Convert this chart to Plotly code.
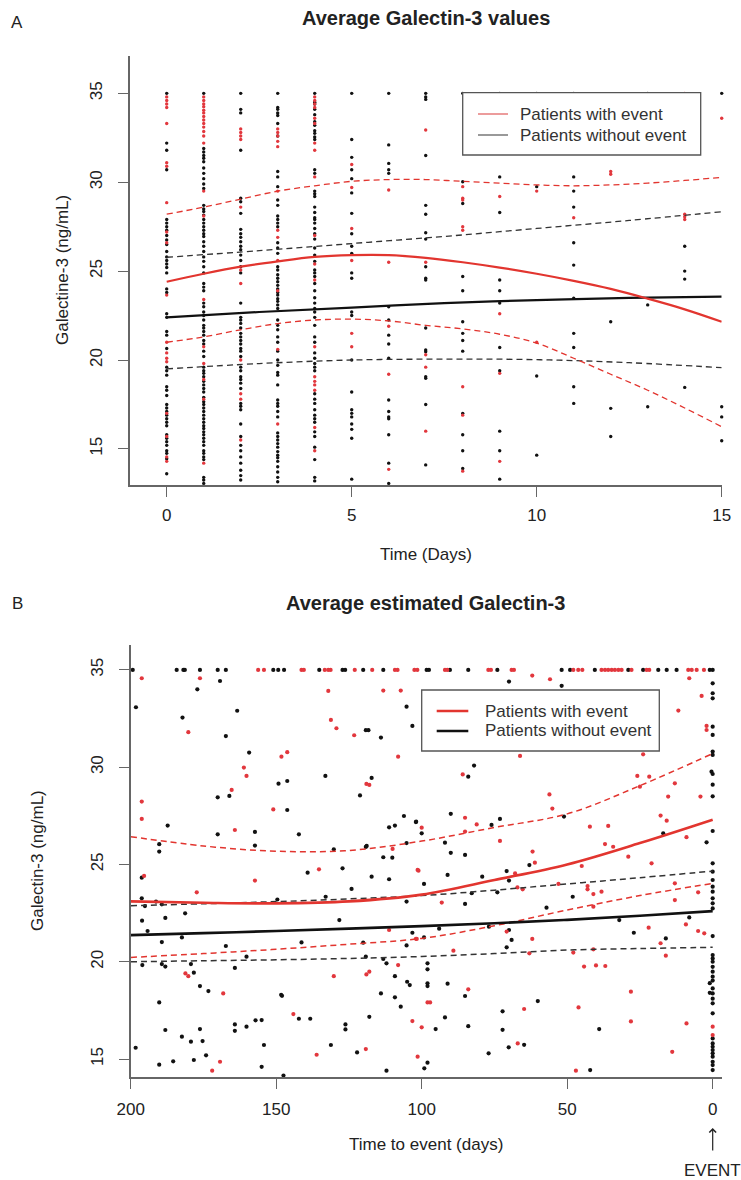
import plotly.graph_objects as go

W, H = 741, 1180
FONT = "Liberation Sans, Arial, sans-serif"
RED = "#e2352f"
RED_PT = "#e2373d"
BLACK = "#111111"
AXIS = "#666666"

# ---------------- Panel A: measured values by day ----------------
A_WITH_EVENT = {
    0: [34.8, 34.6, 34.4, 34.2, 33.3, 31.1, 30.9, 28.85, 27.2, 26.6, 23.65, 21.0, 20.4, 20.1, 19.9, 17.0, 15.7, 14.55, 14.3],
    1: [34.8, 34.6, 34.4, 34.25, 34.05, 33.9, 33.7, 33.5, 33.3, 33.1, 32.85, 32.6, 32.2, 29.5, 28.1, 23.4, 20.75, 19.8, 18.9, 17.8, 14.2],
    2: [33.0, 32.8, 32.6, 32.4, 28.6, 25.06, 24.3, 20.0, 18.1, 17.8, 15.5],
    3: [33.0, 32.8, 32.6, 32.3, 32.0, 29.5, 27.3, 26.9, 25.6, 23.9, 20.6, 16.4],
    4: [34.8, 34.6, 34.4, 34.2, 33.6, 33.3, 32.2, 31.8, 30.3, 27.0, 25.4, 24.5, 20.75, 19.06, 18.8, 18.6, 18.3, 16.2, 14.9],
    5: [31.0, 29.7, 27.4, 25.6, 21.5, 20.75],
    6: [29.56, 25.5, 21.9, 19.2, 13.85],
    7: [32.94, 25.5, 20.3, 19.6, 16.0],
    8: [29.75, 29.1, 29.0, 27.5, 27.3, 18.5, 16.9, 13.75],
    9: [29.2, 22.6, 19.25, 14.3],
    10: [29.5, 21.0],
    11: [28.0],
    12: [30.6, 30.45],
    14: [35.0, 28.2, 28.06, 27.9],
    15: [33.6],
}
A_WITHOUT_EVENT = {
    0: [35.0, 32.2, 31.8, 30.7, 27.9, 27.7, 27.5, 27.3, 27.0, 26.75, 26.5, 26.1, 25.8, 25.6, 25.4, 25.2, 24.9,
        24.0, 23.8, 22.6, 22.4, 21.6, 21.4, 20.65, 19.6, 19.4, 19.15, 18.5, 18.3, 18.0, 17.5, 17.3, 17.1, 16.9,
        16.7, 16.5, 16.3, 15.8, 15.6, 15.4, 15.2, 14.9, 14.75, 14.45, 13.6],
    1: [35.0, 31.9, 31.7, 31.5, 31.35, 31.15, 30.8, 30.5, 30.2, 29.9, 29.65, 28.7, 28.5, 28.35, 28.15, 27.9, 27.7,
        27.5, 27.3, 27.1, 26.95, 26.65, 26.4, 26.1, 25.8, 25.55, 25.25, 24.9, 24.3, 24.1, 23.9, 23.2, 23.0, 22.7,
        22.5, 22.25, 21.95, 21.8, 21.6, 21.4, 21.1, 20.9, 20.5, 20.2, 19.6, 19.4, 19.25, 19.06, 18.8, 18.6, 18.4,
        18.2, 17.9, 17.65, 17.5, 17.3, 17.1, 16.9, 16.7, 16.5, 16.3, 16.15, 15.96, 15.8, 15.6, 15.4, 15.2, 14.9,
        14.75, 14.55, 14.4, 13.4, 13.25, 13.06],
    2: [35.0, 34.1, 33.9, 31.8, 29.1, 28.9, 28.25, 27.35, 27.1, 26.9, 26.65, 26.4, 26.2, 25.9, 25.6, 25.25, 24.9,
        23.2, 22.4, 22.25, 22.06, 21.8, 21.5, 21.3, 21.1, 20.9, 20.65, 20.5, 20.2, 19.6, 19.4, 19.06, 18.9, 18.7,
        18.4, 17.56, 17.4, 17.2, 16.4, 15.7, 15.2, 14.9, 14.55, 14.2, 13.8, 13.5, 13.25],
    3: [35.0, 34.2, 34.1, 33.9, 33.75, 33.3, 32.6, 30.6, 30.3, 29.75, 29.0, 28.7, 28.1, 27.9, 27.7, 27.5, 26.6,
        26.3, 26.0, 25.25, 25.06, 24.8, 24.6, 24.4, 24.2, 24.0, 23.8, 23.65, 23.45, 23.3, 23.1, 22.9, 22.25, 21.95,
        21.7, 21.3, 21.0, 20.5, 20.0, 19.7, 19.3, 19.15, 18.6, 17.75, 17.56, 17.4, 17.1, 16.8, 15.9, 15.7, 15.5,
        15.3, 15.1, 14.85, 14.65, 14.5, 14.3, 14.0, 13.7, 13.4, 13.15],
    4: [35.0, 34.5, 34.4, 34.1, 33.8, 33.4, 33.2, 32.9, 32.75, 32.55, 32.4, 30.7, 30.5, 29.5, 29.35, 29.2, 28.6,
        28.3, 28.0, 27.9, 27.7, 27.4, 27.1, 26.8, 26.3, 25.9, 25.55, 25.06, 24.9, 24.7, 24.3, 23.9, 23.5, 23.2,
        22.9, 22.7, 22.4, 21.95, 21.3, 21.0, 20.4, 20.1, 19.8, 19.6, 19.4, 18.1, 17.8, 17.56, 17.2, 16.9, 16.7,
        16.5, 15.96, 15.7, 15.1, 14.4, 13.4, 13.2],
    5: [35.0, 32.4, 31.4, 30.7, 30.2, 29.4, 28.25, 27.1, 26.4, 26.0, 24.9, 24.6, 22.7, 22.5, 20.0, 18.2, 17.2,
        17.0, 16.8, 16.4, 16.1, 15.6, 13.3],
    6: [35.0, 32.1, 31.06, 30.7, 30.5, 23.0, 22.25, 21.4, 20.9, 20.1, 17.75, 17.1, 16.8, 16.7, 15.8, 14.2, 13.06],
    7: [35.0, 34.8, 34.66, 31.5, 28.7, 28.2, 27.16, 26.8, 25.25, 24.6, 24.5, 21.8, 20.56, 20.47, 19.06, 18.97, 17.5, 14.1],
    8: [35.0, 30.03, 28.8, 24.7, 23.9, 22.15, 21.5, 21.1, 20.5, 17.0, 15.8, 14.9, 13.9],
    9: [35.0, 30.3, 28.3, 24.5, 23.9, 23.2, 20.7, 19.4, 16.0, 14.9, 13.3],
    10: [35.0, 29.75, 19.1, 14.65],
    11: [35.0, 30.3, 29.5, 28.6, 26.6, 25.34, 23.47, 21.5, 20.7, 18.5, 17.56],
    12: [22.15, 17.28, 15.7],
    13: [35.0, 23.1, 17.37],
    14: [26.4, 25.0, 24.55, 18.46],
    15: [35.0, 17.37, 16.8, 15.46],
}

# Smoothed averages with confidence bands (panel A)
A_EVENT_DAYS = list(range(16))
A_EVENT_MEAN = [24.4, 24.85, 25.25, 25.55, 25.8, 25.9, 25.9, 25.75, 25.5, 25.2, 24.85, 24.45, 24.0, 23.45, 22.85, 22.15]
A_EVENT_UPPER = [28.2, 28.6, 29.05, 29.5, 29.8, 30.05, 30.15, 30.15, 30.05, 29.95, 29.85, 29.8, 29.85, 29.95, 30.1, 30.27]
A_EVENT_LOWER = [21.0, 21.3, 21.7, 22.05, 22.25, 22.3, 22.2, 21.95, 21.75, 21.45, 20.95, 20.1, 19.2, 18.3, 17.3, 16.25]
A_NOEVENT_DAYS = [0, 2.5, 5, 7.5, 10, 12.5, 15]
A_NOEVENT_MEAN = [22.4, 22.7, 22.95, 23.2, 23.37, 23.5, 23.56]
A_NOEVENT_UPPER = [25.78, 26.15, 26.55, 26.95, 27.4, 27.85, 28.34]
A_NOEVENT_LOWER = [19.5, 19.8, 20.0, 20.05, 20.02, 19.85, 19.57]

# ---------------- Panel B: estimated values by time to event ----------------
B_EVENT_DAYS = [156.2, 154.2, 141.3, 140.5, 133.3, 132.1, 131.3, 123.0, 117.0, 109.2, 108.3, 102.5, 101.5,
                92.0, 91.2, 77.1, 76.2, 69.1, 68.3, 47.9, 46.2, 44.8, 38.2, 37.0, 35.9, 34.7, 33.6, 32.4, 31.3,
                27.9, 22.7, 21.8, 8.4, 7.2, 5.5, 3.0,
                196.2, 176.2, 180.2, 161.1, 160.2, 165.3, 196.2, 196.2, 164.2, 148.2, 146.2, 151.0, 132.1, 131.2,
                129.3, 123.2, 119.0, 118.0, 113.2, 107.2, 108.1, 110.0, 135.3,
                195.4, 177.3, 157.3, 101.4, 181.2, 180.2, 168.2, 169.3, 111.2, 102.0, 108.1, 130.2, 119.0, 118.0,
                144.1, 103.2, 119.2, 136.1, 101.4, 172.0,
                62.0, 55.9, 8.05, 3.8, 11.8, 66.2, 23.9, 2.1, 2.1, 85.9, 25.9, 21.8, 25.0, 13.0, 56.1, 15.3, 4.2,
                55.1, 85.1, 100.0, 81.1, 85.1, 73.1, 61.9, 42.2, 35.9, 37.0, 34.2, 17.9, 15.8, 9.0, 29.0, 21.0,
                45.0, 61.1,
                101.1, 67.9, 67.1, 65.3, 93.1, 53.0, 43.0, 43.0, 41.0, 38.2, 41.0, 13.0, 13.0, 5.0, 9.2, 5.0, 2.9,
                22.0, 17.9, 16.1, 101.7, 70.8, 62.0, 63.0, 89.1, 47.9, 41.0, 98.0, 97.1, 84.0, 64.8, 100.0, 44.2,
                40.1, 36.9, 46.1, 28.1, 28.1, 9.0, 13.9, 67.0, 47.0, 0.0, 0.0]
B_EVENT_VALUES = [35.0] * 36 + [
                34.57, 34.57, 31.8, 29.98, 29.55, 28.83, 28.23, 27.34, 26.77, 30.54, 30.77, 27.83, 33.92, 32.43,
                32.0, 31.64, 29.14, 29.09, 33.94, 33.94, 30.54, 25.8, 24.75,
                24.41, 23.57, 24.17, 24.72, 19.4, 19.26, 18.37, 14.86, 21.63, 21.18, 19.83, 19.26, 19.35, 19.49,
                17.31, 16.95, 15.51, 15.22, 15.12, 14.4,
                34.71, 34.52, 34.57, 33.66, 32.91, 30.58, 30.66, 32.12, 31.91, 29.63, 29.55, 29.51, 29.0, 29.17,
                28.6, 28.49, 28.49, 27.87, 27.4, 26.89, 27.06, 26.69, 26.21, 25.66, 26.94, 26.98, 26.05, 25.91,
                27.51, 27.25, 26.4, 25.4, 25.06, 24.92, 25.09,
                24.68, 24.54, 23.82, 23.72, 23.04, 24.0, 23.89, 23.72, 23.48, 23.6, 22.83, 24.03, 23.17, 23.57,
                21.92, 21.58, 21.46, 21.75, 20.95, 20.31, 21.17, 21.55, 21.17, 20.43, 20.57, 20.47, 20.64, 17.91,
                17.91, 18.58, 17.57, 16.63, 19.75, 19.81, 19.78, 17.65, 18.46, 16.93, 16.83, 15.37, 15.8, 14.4,
                16.66, 16.23]

B_NOEVENT_DAYS = [199.3, 184.2, 181.9, 181.4, 176.2, 170.1, 167.3, 151.0, 149.3, 147.3, 135.2, 127.2, 126.3,
                  120.1, 113.2, 98.3, 97.5, 90.3, 84.0, 74.0, 51.9, 49.0, 40.5, 29.0, 23.9, 18.7, 15.8, 12.4, 1.0, 0.0,
                  198.2, 177.1, 169.3, 182.2, 167.3, 163.4, 159.3, 170.1, 166.1, 187.3, 190.2, 190.2, 170.1, 157.3,
                  157.3, 149.2, 146.2, 146.2, 142.2, 119.2, 118.3, 114.0, 133.1, 117.2, 121.2, 105.2, 103.2, 106.1,
                  111.2, 109.2, 102.0, 105.2, 113.2, 110.1, 119.2, 118.9, 130.2, 127.2,
                  196.2, 139.2, 117.2, 111.2, 196.2, 191.3, 189.3, 195.1, 196.1, 194.2, 188.1, 181.3, 182.4, 189.3,
                  167.3, 160.2, 196.0, 189.3, 188.1, 179.3, 178.3, 164.2, 176.2, 173.3, 190.2, 148.3, 148.0, 188.1,
                  182.4, 179.3, 176.2, 175.3, 174.1, 164.2, 164.2, 160.2, 157.1, 155.0, 154.2, 155.0, 198.3, 190.2,
                  185.4, 178.3, 133.0, 124.1, 128.3, 141.3, 105.2, 103.2, 105.2, 120.1, 119.2, 113.2, 112.1, 109.2,
                  105.0, 104.1, 114.0, 109.2, 107.2, 142.2, 138.3, 126.2, 126.2, 118.0, 131.2, 122.2, 112.1, 149.6,
                  147.5,
                  70.0, 51.9, 0.0, 0.0, 0.0, 0.0, 0.0, 0.0, 0.0, 0.4, 0.0, 0.0, 0.0, 84.0, 82.0, 90.0, 51.1, 101.9,
                  100.0, 76.0, 73.1, 92.0, 90.0, 85.1, 17.0, 0.0, 2.1, 63.0, 0.0,
                  91.1, 79.2, 70.8, 70.0, 99.2, 0.0, 0.0, 0.0, 0.0, 0.0, 0.0, 0.0, 74.0, 82.8, 85.1, 48.1, 57.1,
                  8.05, 32.1, 27.1, 16.1, 0.0, 99.2, 94.0, 76.9, 70.0, 69.1, 70.8, 98.0, 98.0, 98.0, 98.0, 91.1,
                  85.1, 60.1, 72.2, 92.0, 84.0, 72.2, 95.2, 39.0, 77.0, 70.1, 64.8, 98.0, 99.1, 42.1,
                  0.0, 0.0, 0.0, 0.0, 0.0, 0.0, 0.0, 0.0, 0.0, 0.0, 0.0, 0.0, 0.0, 0.0, 0.0, 0.0, 0.0, 0.0, 0.0,
                  0.0, 0.0, 1.0, 1.0]
B_NOEVENT_VALUES = [35.0] * 30 + [
                  33.08, 34.0, 34.43, 32.55, 31.6, 32.9, 30.75, 28.45, 28.52, 27.0, 26.04, 25.66, 26.55, 26.67,
                  25.97, 29.15, 29.29, 27.8, 26.55, 31.9, 31.9, 31.52, 29.55, 29.45, 28.55, 33.11, 32.12, 27.49,
                  26.91, 27.0, 27.18, 26.1, 25.37, 25.35, 25.9, 25.95, 25.78, 24.8,
                  24.32, 24.58, 24.37, 24.24, 23.26, 23.09, 22.95, 22.86, 22.11, 21.58, 22.25, 22.49, 21.25, 21.01,
                  20.81, 20.26, 19.83, 19.88, 19.75, 19.88, 19.44, 19.68, 18.75, 18.49, 17.91, 18.3, 18.25, 16.49,
                  16.15, 15.89, 16.54, 15.92, 15.19, 16.78, 16.45, 16.66, 16.99, 17.0, 15.72, 14.6, 15.58, 14.71,
                  14.88, 14.95, 23.34, 23.74, 22.14, 20.99, 23.09, 21.49, 20.84, 20.98, 20.26, 20.14, 19.92, 19.26,
                  18.97, 18.8, 18.37, 18.17, 17.69, 17.07, 17.07, 16.78, 16.52, 17.17, 15.72, 15.34, 14.4, 23.2,
                  14.15,
                  34.4, 34.18, 34.31, 33.8, 33.54, 32.08, 31.66, 30.8, 30.63, 29.77, 29.65, 29.1, 28.5, 29.51, 30.08,
                  27.6, 27.46, 27.2, 26.6, 27.03, 27.34, 26.12, 25.6, 25.49, 26.6, 26.72, 26.14, 24.97, 25.06,
                  24.46, 24.37, 24.66, 24.17, 24.0, 24.63, 24.2, 23.86, 23.6, 23.26, 23.0, 22.74, 23.57, 23.52,
                  22.97, 23.34, 22.78, 22.28, 22.14, 21.49, 21.2, 21.32, 21.25, 21.7, 21.8, 21.63, 21.12, 20.74,
                  19.92, 19.61, 18.89, 18.75, 18.87, 18.24, 17.98, 17.45, 17.14, 16.69, 16.5, 16.54, 16.54, 15.29,
                  15.6, 15.73, 14.81, 14.52, 14.43,
                  20.34, 20.17, 20.0, 19.74, 19.49, 19.23, 19.03, 18.63, 18.37, 18.1, 17.86, 17.35, 16.06, 15.8,
                  15.63, 15.46, 15.29, 15.12, 14.86, 14.69, 14.43, 18.9, 18.4]

# Smoothed averages with confidence bands (panel B)
B_CURVE_DAYS = [200, 175, 150, 125, 100, 75, 50, 25, 0]
B_EVENT_MEAN = [23.1, 23.03, 23.0, 23.1, 23.45, 24.2, 25.0, 26.1, 27.3]
B_EVENT_UPPER = [26.43, 25.95, 25.68, 25.72, 26.2, 26.9, 27.6, 29.05, 30.7]
B_EVENT_LOWER = [20.22, 20.42, 20.64, 20.9, 21.2, 21.85, 22.66, 23.4, 24.03]
B_NOEVENT_MEAN = [21.37, 21.47, 21.58, 21.7, 21.83, 21.98, 22.15, 22.36, 22.6]
B_NOEVENT_UPPER = [22.88, 22.98, 23.09, 23.23, 23.4, 23.68, 24.0, 24.32, 24.66]
B_NOEVENT_LOWER = [20.0, 20.05, 20.1, 20.17, 20.27, 20.42, 20.6, 20.68, 20.74]

A_XTICKS = [0, 5, 10, 15]
A_YTICKS = [15, 20, 25, 30, 35]
B_XTICKS = [200, 150, 100, 50, 0]
B_YTICKS = [15, 20, 25, 30, 35]
LEGEND_LABELS = ["Patients with event", "Patients without event"]


def flatten(groups):
    xs, ys = [], []
    for day, vals in groups.items():
        xs.extend([day] * len(vals))
        ys.extend(vals)
    return xs, ys


def px_x(px):
    return px / W


def px_y(py):
    return 1 - py / H


fig = go.Figure()

# panel A points
ax_, ay_ = flatten(A_WITHOUT_EVENT)
fig.add_trace(go.Scatter(x=ax_, y=ay_, mode="markers", xaxis="x", yaxis="y",
                         marker=dict(size=3.4, color=BLACK), cliponaxis=False))
ax_, ay_ = flatten(A_WITH_EVENT)
fig.add_trace(go.Scatter(x=ax_, y=ay_, mode="markers", xaxis="x", yaxis="y",
                         marker=dict(size=3.4, color=RED_PT), cliponaxis=False))


def curve(x, y, color, width, dash, xa, ya):
    fig.add_trace(go.Scatter(x=x, y=y, mode="lines", xaxis=xa, yaxis=ya,
                             line=dict(color=color, width=width, dash=dash, shape="spline", smoothing=1.0)))


DASH = "6px,4px"
curve(A_NOEVENT_DAYS, A_NOEVENT_UPPER, "#333333", 1.3, DASH, "x", "y")
curve(A_NOEVENT_DAYS, A_NOEVENT_LOWER, "#333333", 1.3, DASH, "x", "y")
curve(A_EVENT_DAYS, A_EVENT_UPPER, RED, 1.3, DASH, "x", "y")
curve(A_EVENT_DAYS, A_EVENT_LOWER, RED, 1.3, DASH, "x", "y")
curve(A_NOEVENT_DAYS, A_NOEVENT_MEAN, BLACK, 2.2, "solid", "x", "y")
curve(A_EVENT_DAYS, A_EVENT_MEAN, RED, 2.2, "solid", "x", "y")

# panel B points
fig.add_trace(go.Scatter(x=B_NOEVENT_DAYS, y=B_NOEVENT_VALUES, mode="markers", xaxis="x2", yaxis="y2",
                         marker=dict(size=4.2, color=BLACK), cliponaxis=False))
fig.add_trace(go.Scatter(x=B_EVENT_DAYS, y=B_EVENT_VALUES, mode="markers", xaxis="x2", yaxis="y2",
                         marker=dict(size=4.2, color=RED_PT), cliponaxis=False))

curve(B_CURVE_DAYS, B_NOEVENT_UPPER, "#333333", 1.5, DASH, "x2", "y2")
curve(B_CURVE_DAYS, B_NOEVENT_LOWER, "#333333", 1.5, DASH, "x2", "y2")
curve(B_CURVE_DAYS, B_EVENT_UPPER, RED, 1.5, DASH, "x2", "y2")
curve(B_CURVE_DAYS, B_EVENT_LOWER, RED, 1.5, DASH, "x2", "y2")
curve(B_CURVE_DAYS, B_NOEVENT_MEAN, BLACK, 2.6, "solid", "x2", "y2")
curve(B_CURVE_DAYS, B_EVENT_MEAN, RED, 2.6, "solid", "x2", "y2")

tickfont = dict(family=FONT, size=17, color="#222222")
axis_common = dict(showline=True, linecolor=AXIS, linewidth=1.5, ticks="outside", ticklen=10,
                   tickcolor=AXIS, tickwidth=1.3, showgrid=False, zeroline=False, tickfont=tickfont,
                   fixedrange=True, automargin=False)

fig.update_layout(
    template="none",
    width=W, height=H, margin=dict(l=0, r=0, t=0, b=0, pad=0, autoexpand=False),
    paper_bgcolor="white", plot_bgcolor="white", showlegend=False,
    xaxis=dict(domain=[px_x(129.7), px_x(721.7)], range=[-1, 15], tickvals=A_XTICKS, anchor="y",
               ticklabelstandoff=4, **axis_common),
    yaxis=dict(domain=[px_y(485), px_y(56)], range=[12.97, 37.1], tickvals=A_YTICKS, anchor="x",
               tickangle=-90, ticklabelstandoff=9, **axis_common),
    xaxis2=dict(domain=[px_x(130.7), px_x(721.7)], range=[200, -3.1], tickvals=B_XTICKS, anchor="y2",
                ticklabelstandoff=6, **axis_common),
    yaxis2=dict(domain=[px_y(1077.3), px_y(645)], range=[14.06, 36.28], tickvals=B_YTICKS, anchor="x2",
                tickangle=-90, ticklabelstandoff=9, **axis_common),
)

shapes = []
annotations = []


def text(t, x, y, size=17, bold=False, angle=0, xanchor="center", color="#222222"):
    annotations.append(dict(text=f"<b>{t}</b>" if bold else t, x=px_x(x), y=px_y(y), xref="paper",
                            yref="paper", showarrow=False, xanchor=xanchor, yanchor="middle",
                            textangle=angle, font=dict(family=FONT, size=size, color=color)))


def legend_box(x0, x1, y0, y1, lx0, lx1, rows, colors, lw, tx):
    shapes.append(dict(type="rect", xref="paper", yref="paper", x0=px_x(x0), x1=px_x(x1),
                       y0=px_y(y1), y1=px_y(y0), fillcolor="white",
                       line=dict(color="#555555", width=1.3), layer="above"))
    for label, row_y, col in zip(LEGEND_LABELS, rows, colors):
        shapes.append(dict(type="line", xref="paper", yref="paper", x0=px_x(lx0), x1=px_x(lx1),
                           y0=px_y(row_y), y1=px_y(row_y), line=dict(color=col, width=lw), layer="above"))
        text(label, tx, row_y, xanchor="left", color="#333333")


# panel labels and titles
text("A", 17, 22, size=17)
text("B", 17, 603, size=17)
text("Average Galectin-3 values", 426, 18, size=20, bold=True)
text("Average estimated Galectin-3", 425, 603, size=20, bold=True)
text("Time (Days)", 425.7, 554)
text("Time to event (days)", 426, 1144)
text("Galectine-3 (ng/mL)", 62, 270, angle=-90)
text("Galectin-3 (ng/mL)", 37, 861, angle=-90)
text("EVENT", 712.7, 1170)
annotations.append(dict(text="", x=px_x(712.7), y=px_y(1128), xref="paper", yref="paper",
                        ax=0, ay=24, showarrow=True, arrowhead=4, arrowsize=1.1, arrowwidth=1.2,
                        arrowcolor="#222222"))

legend_box(462.7, 700.7, 92.7, 155, 478, 508, [114, 135], ["#e05a5a", "#555555"], 1.2, 518)
legend_box(421.7, 659.3, 690, 751, 436.7, 468.3, [711, 731], [RED, BLACK], 2.6, 483)

fig.update_layout(shapes=shapes, annotations=annotations)
fig.write_html("out.html")
